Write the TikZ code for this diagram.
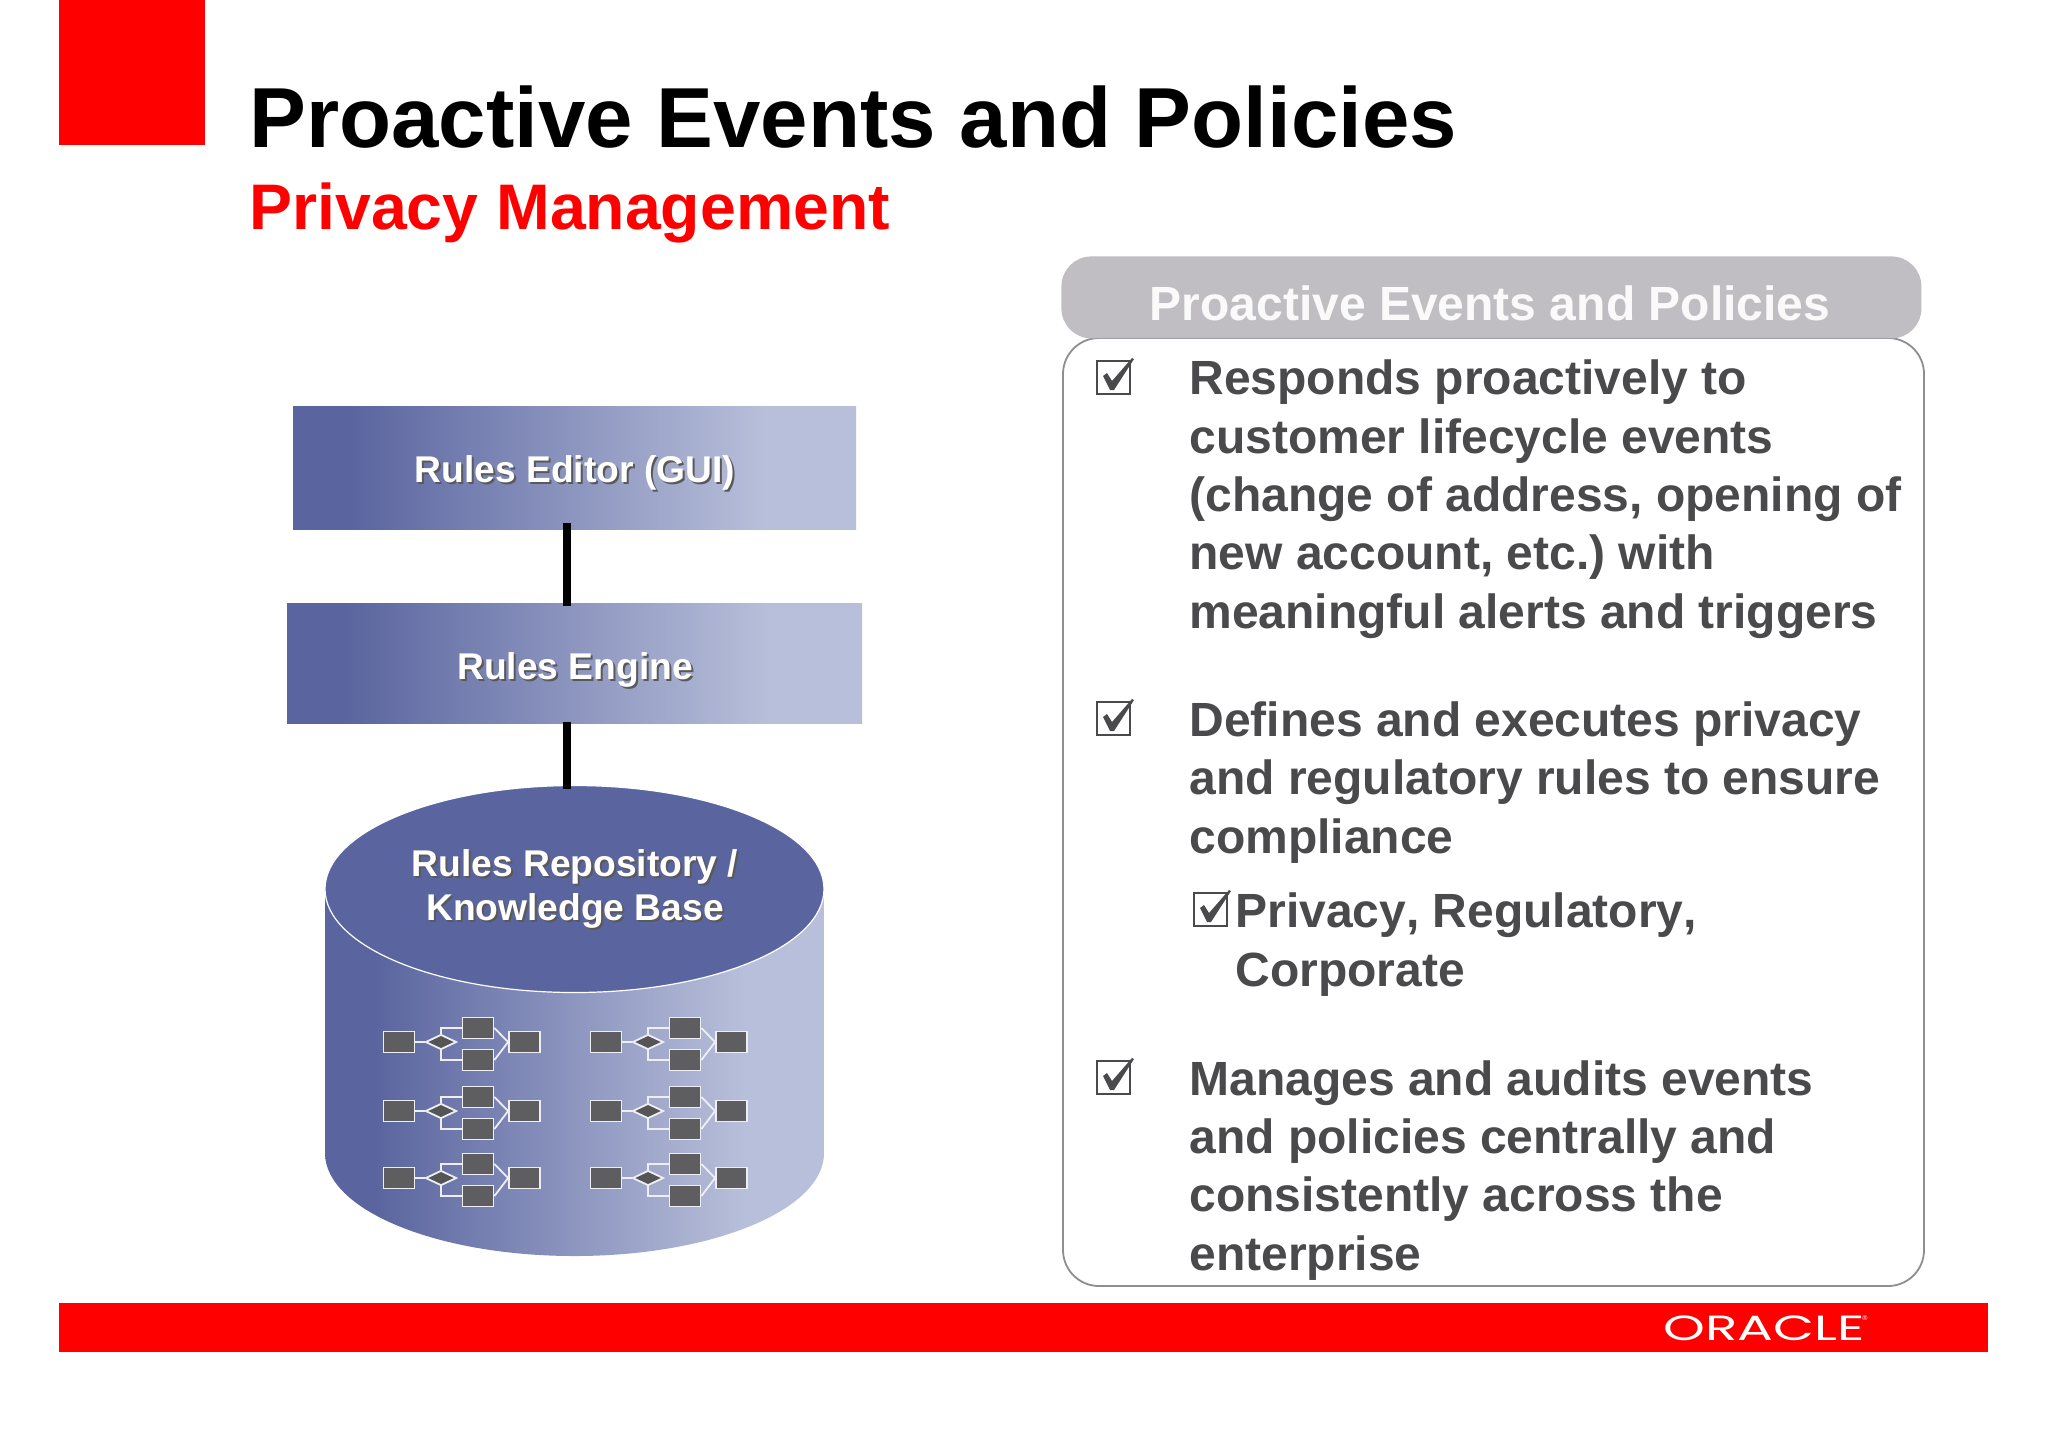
\documentclass[tikz,border=0pt]{standalone}
\usepackage{fontspec}
\setmainfont[Kerning=Off]{Liberation Sans}
\newfontfamily\logofont{Poppins}
\usetikzlibrary{shapes.geometric}
\definecolor{slateA}{HTML}{5A659F}
\definecolor{slateB}{HTML}{B8BFDA}
\definecolor{bodygray}{HTML}{4A4A4C}
\definecolor{headgray}{HTML}{C0BEC2}
\definecolor{edgegray}{HTML}{8E8E90}
\definecolor{flowgray}{HTML}{5E5E60}
\definecolor{flowline}{HTML}{EEEFF5}
\pgfdeclarehorizontalshading{barshade}{100bp}{color(0bp)=(slateA); color(25bp)=(slateA); color(30bp)=(slateA); color(67bp)=(slateB); color(100bp)=(slateB)}
\pgfdeclarehorizontalshading{cylshade}{100bp}{color(0bp)=(slateA); color(25bp)=(slateA); color(30bp)=(slateA); color(67bp)=(slateB); color(100bp)=(slateB)}
\newcommand{\shtext}[1]{\makebox[0pt][l]{\kern1pt\raisebox{-1pt}{\textcolor{black!65}{#1}}}#1}
\tikzset{
  x=.5pt,y=-.5pt,
  bar/.style={shade,shading=barshade,minimum width=#1*.5pt,inner sep=0pt},
  barlabel/.style={inner sep=0pt,align=center,text=white,font=\bfseries\fontsize{18.6}{22}\selectfont},
  conn/.style={draw=black,line width=3.8pt},
  para/.style={anchor=base west,inner sep=0pt,align=left,text=bodygray,font=\bfseries\fontsize{24}{29.15}\selectfont\frenchspacing},
  fbox/.style={draw=flowline,line width=.9pt,fill=flowgray,minimum width=15.5pt,minimum height=10.5pt,inner sep=0pt},
  fdia/.style={diamond,draw=flowline,line width=.9pt,fill=flowgray!90!black,minimum width=15.5pt,minimum height=7.5pt,inner sep=0pt},
  fline/.style={draw=flowline,line width=.9pt},
  flow/.pic={
    \node[fbox] (l) at (0,0) {};
    \node[fdia] (d) at (42,0) {};
    \node[fbox] (u) at (79,-14) {};
    \node[fbox] (w) at (79,18) {};
    \node[fbox] (r) at (125.5,0) {};
    \draw[fline] (l.east) -- (d.west);
    \draw[fline] (d.north) |- (u.west);
    \draw[fline] (d.south) |- (w.west);
    \draw[fline] (u.east) -- (r.west);
    \draw[fline] (w.east) -- (r.west);
  },
  tick/.pic={
    \draw[bodygray,line width=1.4pt] (0,0) rectangle (33,33);
    \fill[bodygray] (6,15) -- (10,12) -- (15,20) -- (35,-3) -- (37,-2) -- (17,29) -- (13,29) -- cycle;
  }
}
\begin{document}
\begin{tikzpicture}
\useasboundingbox (0,0) rectangle (2048,1447);
\fill[white] (0,0) rectangle (2048,1447);
% brand marks
\node[fill=red,minimum width=73pt,minimum height=72.5pt,inner sep=0pt,anchor=north west] (corner) at (59,0) {};
\node[fill=red,minimum width=964.5pt,minimum height=24.5pt,inner sep=0pt,anchor=north west] (foot) at (59,1303) {};
\node[text=white,inner sep=0pt,anchor=center,transform shape,xscale=1.52,font=\logofont\fontsize{17.5}{20}\selectfont] (logo) at (1764,1328) {ORACLE};
\node[text=white,inner sep=0pt,font=\fontsize{3.5}{4}\selectfont] (reg) at (1865,1318) {®};
% titles
\node[anchor=base west,inner sep=0pt,font=\bfseries\fontsize{42.6}{48}\selectfont] (title) at (249,147) {Proactive Events and Policies};
\node[anchor=base west,inner sep=0pt,text=red,font=\bfseries\fontsize{32.2}{36}\selectfont] (sub) at (249,229) {Privacy Management};
% left stack
\node[bar=563,minimum height=61.5pt] (ed) at (574.5,467.5) {};
\node[bar=575,minimum height=60pt] (en) at (574.5,663.5) {};
\shade[shading=cylshade] (325,889) -- (325,1153) arc[start angle=180,end angle=0,x radius=249.5,y radius=103] -- (824,889) -- cycle;
\node[ellipse,draw=white,line width=.6pt,fill=slateA,minimum width=249.5pt,minimum height=103.5pt,inner sep=0pt] (kb) at (574.5,889) {};
\node[barlabel] (edt) at (575,474) {\shtext{Rules Editor (GUI)}};
\node[barlabel] (ent) at (575,671) {\shtext{Rules Engine}};
\node[barlabel] (kbt) at (575,890) {\shtext{Rules Repository /}\\\shtext{Knowledge Base}};
\draw[conn] ([xshift=-3.75pt,yshift=3pt]ed.south) -- ([xshift=-3.75pt,yshift=-1.5pt]en.north);
\draw[conn] ([xshift=-3.75pt,yshift=1pt]en.south) -- ([xshift=-3.75pt,yshift=-2pt]kb.north);
\foreach \cx/\cn in {399/a,606/b}{
  \foreach \ry/\rn in {1042/1,1111/2,1178/3}{
    \pic (f\cn\rn) at (\cx,\ry) {flow};
  }
}
% right panel
\draw[edgegray,line width=.9pt,fill=white,rounded corners=18pt] (1063,338) rectangle (1924,1286);
\node[fill=headgray,rounded corners=15pt,minimum width=430pt,minimum height=41pt,inner sep=0pt,anchor=north west] (head) at (1061,256) {};
\node[text=white!98!black,inner sep=0pt,anchor=base,font=\bfseries\fontsize{24}{28}\selectfont] (headt) at (1490,320) {Proactive Events and Policies};
\pic at (1097,361) {tick};
\pic at (1097,702) {tick};
\pic at (1097,1061) {tick};
\pic at (1194,893) {tick};
\node[para] (p1) at (1189,628) {Responds proactively to\\customer lifecycle events\\(change of address, opening of\\new account, etc.) with\\meaningful alerts and triggers};
\node[para] (p2) at (1189,853) {Defines and executes privacy\\and regulatory rules to ensure\\compliance};
\node[para] (p3) at (1235,986) {Privacy, Regulatory,\\Corporate};
\node[para] (p4) at (1189,1270) {Manages and audits events\\and policies centrally and\\consistently across the\\enterprise};
\end{tikzpicture}
\end{document}
